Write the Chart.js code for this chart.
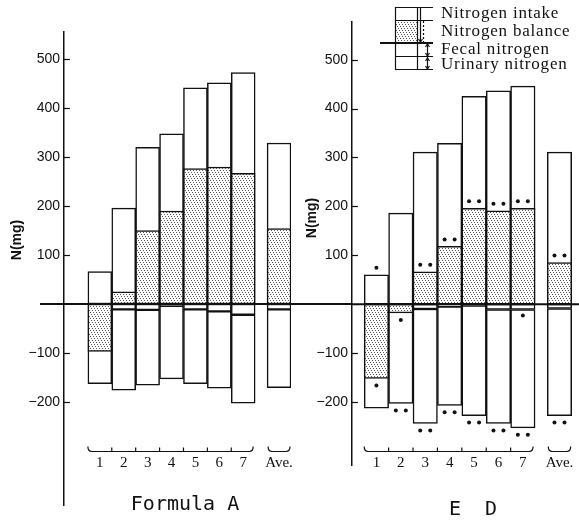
<!DOCTYPE html>
<html>
<head>
<meta charset="utf-8">
<script src="https://cdn.jsdelivr.net/npm/chart.js@4.4.1/dist/chart.umd.min.js"></script>
<style>
  html, body { margin: 0; padding: 0; background: #fff; }
  #wrap { position: relative; width: 579px; height: 525px; }
  #wrap canvas { position: absolute; left: 0; top: 0; }
</style>
</head>
<body>
<div id="wrap">
  <canvas id="formula-a" width="579" height="525"></canvas>
  <canvas id="formula-ed" width="579" height="525"></canvas>
</div>
<script>
// days of the study plus the average bar (set a little apart)
const dayLabels = ['1', '2', '3', '4', '5', '6', '7', 'Ave.'];
const dayPos = [1, 2, 3, 4, 5, 6, 7, 8.5];
const yTicks = [-200, -100, 100, 200, 300, 400, 500];

// Formula A, N (mg)
const intakeA = [66, 196, 320, 348, 442, 452, 473, 329];
const balanceA = [-97, 25, 150, 190, 277, 280, 267, 154];
const fecalA = [6, 11, 12, 4, 11, 15, 22, 11];
const urinaryA = [157, 165, 154, 149, 152, 157, 181, 160];

// ED, N (mg)
const intakeED = [60, 186, 311, 329, 425, 436, 446, 311];
const balanceED = [-152, -18, 66, 118, 196, 191, 196, 85];
const fecalED = [8, 6, 10, 5, 3, 11, 11, 9];
const urinaryED = [205, 197, 234, 202, 225, 233, 242, 219];

// significance marks for ED (number of dots)
const sigIntakeED = [1, 0, 0, 0, 0, 0, 0, 0];
const sigBalanceED = [1, 1, 2, 2, 2, 2, 2, 2];
const sigFecalED = [0, 0, 0, 0, 0, 0, 1, 0];
const sigUrinaryED = [0, 2, 2, 2, 2, 2, 2, 2];

const INK = '#111';
const AXIS_ROW = -300; // where the day brackets sit on the y scale

const makeStipple = (canvas) => {
    const tile = document.createElement('canvas');
    tile.width = 6;
    tile.height = 6;
    const t = tile.getContext('2d');
    t.fillStyle = '#fff';
    t.fillRect(0, 0, 6, 6);
    t.fillStyle = '#5a5a5a';
    [[0, 0], [3, 0], [1, 2], [4, 2], [2, 4], [5, 4]].forEach(([x, y]) => t.fillRect(x, y, 1, 1));
    return canvas.getContext('2d').createPattern(tile, 'repeat');
};

const panelDatasets = (intake, balance, fecal, urinary, stipple) => {
    const common = {
        grouped: false,
        barPercentage: 1,
        categoryPercentage: 1,
        borderColor: INK,
        borderWidth: 1.5,
        borderSkipped: false
    };
    return [{
        ...common,
        label: 'Nitrogen balance',
        backgroundColor: stipple,
        data: balance.map((v, i) => ({ x: dayPos[i], y: [0, v] }))
    }, {
        ...common,
        label: 'Nitrogen intake',
        backgroundColor: '#fff',
        data: intake.map((v, i) => ({ x: dayPos[i], y: [0, v] }))
    }, {
        ...common,
        label: 'Fecal nitrogen',
        backgroundColor: '#fff',
        data: fecal.map((v, i) => ({ x: dayPos[i], y: [-v, 0] }))
    }, {
        ...common,
        label: 'Urinary nitrogen',
        backgroundColor: '#fff',
        data: urinary.map((v, i) => ({ x: dayPos[i], y: [-fecal[i] - v, -fecal[i]] }))
    }];
};

const bracket = (ctx, x1, x2, yb, inner) => {
    ctx.beginPath();
    ctx.moveTo(x1, yb - 5);
    ctx.quadraticCurveTo(x1, yb, x1 + 4, yb);
    ctx.lineTo(x2 - 4, yb);
    ctx.quadraticCurveTo(x2, yb, x2, yb - 5);
    inner.forEach(px => {
        ctx.moveTo(px, yb);
        ctx.lineTo(px, yb - 4);
    });
    ctx.stroke();
};

const dots = (ctx, cx, cy, n) => {
    for (let k = 0; k < n; k++) {
        const dx = n === 1 ? 0 : (k === 0 ? -5 : 5);
        ctx.beginPath();
        ctx.arc(cx + dx, cy, 2, 0, Math.PI * 2);
        ctx.fill();
    }
};

const decorPlugin = (p) => ({
    id: 'decor',
    afterDatasetsDraw(chart) {
        const { ctx, chartArea } = chart;
        const x = chart.scales.x;
        const y = chart.scales.y;
        ctx.save();
        ctx.strokeStyle = INK;
        ctx.fillStyle = INK;

        // zero line
        const y0 = y.getPixelForValue(0);
        ctx.lineWidth = 2;
        ctx.beginPath();
        ctx.moveTo(p.zeroFrom, y0);
        ctx.lineTo(p.zeroTo, y0);
        ctx.stroke();

        // tick marks on the inner side of the axis
        ctx.lineWidth = 1.2;
        yTicks.forEach(v => {
            const py = Math.round(y.getPixelForValue(v)) + 0.5;
            ctx.beginPath();
            ctx.moveTo(chartArea.left, py);
            ctx.lineTo(chartArea.left + 6, py);
            ctx.stroke();
        });

        // day brackets
        const yb = Math.round(y.getPixelForValue(AXIS_ROW)) + 0.5;
        const inner = [1, 2, 3, 4, 5, 6].map(k => x.getPixelForValue(k + 0.5));
        bracket(ctx, x.getPixelForValue(0.5), x.getPixelForValue(7.5) - 2, yb, inner);
        bracket(ctx, x.getPixelForValue(8) + 1, x.getPixelForValue(9) - 1, yb, []);

        // significance dots
        if (p.sig) {
            const s = p.sig;
            dayPos.forEach((pos, i) => {
                const cx = x.getPixelForValue(pos);
                if (s.intake[i]) dots(ctx, cx, y.getPixelForValue(s.vals.intake[i]) - 7, s.intake[i]);
                if (s.balance[i]) {
                    const b = s.vals.balance[i];
                    dots(ctx, cx, y.getPixelForValue(b) + (b > 0 ? -7 : 7), s.balance[i]);
                }
                if (s.fecal[i]) dots(ctx, cx, y.getPixelForValue(-s.vals.fecal[i]) + 6, s.fecal[i]);
                if (s.urinary[i]) {
                    const bottom = -s.vals.fecal[i] - s.vals.urinary[i];
                    dots(ctx, cx, y.getPixelForValue(bottom) + 7, s.urinary[i]);
                }
            });
        }

        // axis label
        ctx.save();
        ctx.translate(p.labelX, p.labelY);
        ctx.rotate(-Math.PI / 2);
        ctx.font = "bold 14px 'Liberation Sans'";
        ctx.textAlign = 'center';
        ctx.textBaseline = 'middle';
        ctx.fillText('N(mg)', 0, 0);
        ctx.restore();

        // panel name
        ctx.font = "20px 'DejaVu Sans Mono'";
        ctx.textAlign = 'center';
        ctx.textBaseline = 'middle';
        ctx.fillText(p.name, p.nameX, p.nameY);

        if (p.key) drawKey(ctx, p.key);
        ctx.restore();
    }
});

const drawKey = (ctx, stipple) => {
    ctx.save();
    ctx.strokeStyle = INK;
    ctx.fillStyle = '#fff';
    ctx.fillRect(395, 7, 22, 62);
    ctx.fillStyle = stipple;
    ctx.fillRect(395, 20, 22, 23);
    ctx.lineWidth = 1.2;
    ctx.beginPath();
    ctx.moveTo(395.5, 7);
    ctx.lineTo(395.5, 69);
    [7.5, 20.5, 56.5, 69.5].forEach(ly => {
        ctx.moveTo(395, ly);
        ctx.lineTo(433, ly);
    });
    ctx.moveTo(417.5, 7);
    ctx.lineTo(417.5, 69);
    ctx.moveTo(420.5, 8);
    ctx.lineTo(420.5, 42);
    ctx.moveTo(427.5, 44);
    ctx.lineTo(427.5, 56);
    ctx.moveTo(427.5, 57);
    ctx.lineTo(427.5, 69);
    ctx.stroke();
    // small arrow heads
    ctx.beginPath();
    [[420.5, 42, 1], [427.5, 44, -1], [427.5, 56, 1], [427.5, 58, -1], [427.5, 69, 1]].forEach(([ax, ay, d]) => {
        ctx.moveTo(ax - 2, ay - 3 * d);
        ctx.lineTo(ax, ay);
        ctx.lineTo(ax + 2, ay - 3 * d);
    });
    ctx.stroke();
    ctx.setLineDash([2, 2]);
    ctx.beginPath();
    ctx.moveTo(423.5, 21);
    ctx.lineTo(423.5, 42);
    ctx.stroke();
    ctx.setLineDash([]);
    ctx.lineWidth = 2;
    ctx.beginPath();
    ctx.moveTo(380, 43);
    ctx.lineTo(433, 43);
    ctx.stroke();

    ctx.fillStyle = INK;
    ctx.font = "17px 'Liberation Serif'";
    ctx.letterSpacing = '0.8px';
    ctx.textAlign = 'left';
    ctx.textBaseline = 'alphabetic';
    ctx.fillText('Nitrogen intake', 441, 18);
    ctx.fillText('Nitrogen balance', 441, 36);
    ctx.fillText('Fecal nitrogen', 441, 54);
    ctx.fillText('Urinary nitrogen', 441, 69);
    ctx.restore();
};

const panelOptions = (p) => ({
    responsive: false,
    animation: false,
    devicePixelRatio: 1,
    layout: {
        padding: { left: p.padLeft, right: p.padRight, top: p.top, bottom: 525 - p.bottom }
    },
    plugins: {
        legend: { display: false },
        tooltip: { enabled: false }
    },
    scales: {
        x: {
            type: 'linear',
            offset: false,
            min: p.xMin,
            max: p.xMax,
            position: { y: AXIS_ROW },
            grid: { display: false, drawTicks: false, offset: false },
            border: { display: false },
            afterBuildTicks: (s) => { s.ticks = dayPos.map(v => ({ value: v })); },
            ticks: {
                autoSkip: false,
                maxRotation: 0,
                padding: 3,
                color: INK,
                font: { family: "'Liberation Serif'", size: 15 },
                callback: (v, i) => dayLabels[i]
            }
        },
        y: {
            min: p.yMin,
            max: p.yMax,
            afterFit: (s) => { s.width = 64; },
            afterBuildTicks: (s) => { s.ticks = yTicks.map(v => ({ value: v })); },
            grid: { display: false, drawTicks: false },
            border: { display: true, color: INK, width: 1.5 },
            ticks: {
                padding: 4,
                color: INK,
                font: { family: "'Liberation Sans'", size: 14 },
                callback: (v) => (v < 0 ? '\u2212' + Math.abs(v) : String(v))
            }
        }
    }
});

// Formula A chart
const canvasA = document.getElementById('formula-a');
const stippleA = makeStipple(canvasA);
const chartA = new Chart(canvasA.getContext('2d'), {
    type: 'bar',
    data: { datasets: panelDatasets(intakeA, balanceA, fecalA, urinaryA, stippleA) },
    options: panelOptions({ padLeft: 0, padRight: 288, top: 32, bottom: 505, xMin: -0.5, xMax: 9.0, yMin: -411, yMax: 556 }),
    plugins: [decorPlugin({ zeroFrom: 40, zeroTo: 352, labelX: 17, labelY: 240, name: 'Formula A', nameX: 185, nameY: 505 })]
});

// ED chart
const canvasED = document.getElementById('formula-ed');
const stippleED = makeStipple(canvasED);
const chartED = new Chart(canvasED.getContext('2d'), {
    type: 'bar',
    data: { datasets: panelDatasets(intakeED, balanceED, fecalED, urinaryED, stippleED) },
    options: panelOptions({ padLeft: 288, padRight: 0, top: 22, bottom: 465, xMin: 0, xMax: 9.3, yMin: -329, yMax: 577 }),
    plugins: [decorPlugin({
        zeroFrom: 352, zeroTo: 579, labelX: 312, labelY: 218, name: 'E  D', nameX: 473, nameY: 510,
        key: stippleED,
        sig: {
            intake: sigIntakeED, balance: sigBalanceED, fecal: sigFecalED, urinary: sigUrinaryED,
            vals: { intake: intakeED, balance: balanceED, fecal: fecalED, urinary: urinaryED }
        }
    })]
});
</script>
</body>
</html>
